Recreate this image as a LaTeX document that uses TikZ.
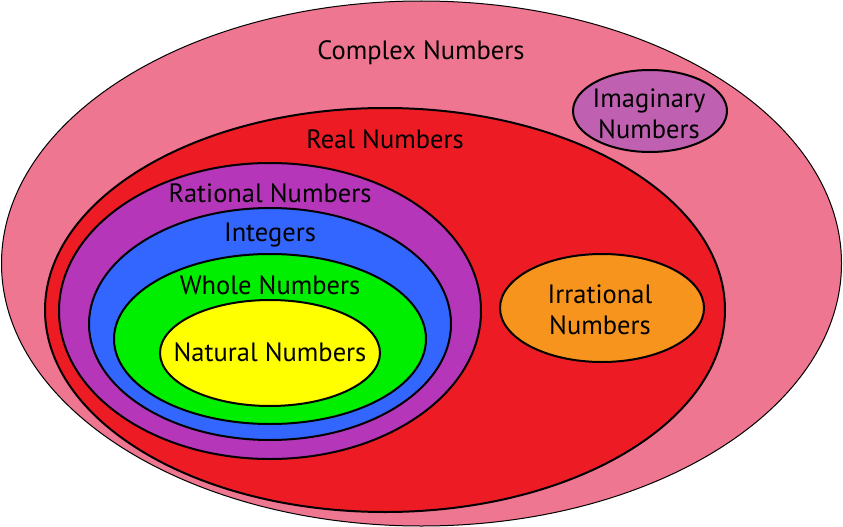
\documentclass[tikz,border=0pt]{standalone}
\usepackage{fontspec}
\setmainfont{PT Sans}
\usepackage{tikz}

\definecolor{complexpink}{HTML}{EF7690}
\definecolor{realred}{HTML}{ED1C24}
\definecolor{rationalpurple}{HTML}{B536B8}
\definecolor{integerblue}{HTML}{3366FF}
\definecolor{wholegreen}{HTML}{00EE00}
\definecolor{naturalyellow}{HTML}{FFFF00}
\definecolor{imagpurple}{HTML}{C060B0}
\definecolor{irratorange}{HTML}{F7941D}

\tikzset{
    numset/.style={draw=black, line width=2pt},
    setlabel/.style={font=\fontsize{26.5}{31}\selectfont, align=center, inner sep=0pt}
}

\begin{document}
\begin{tikzpicture}[x=1pt, y=-1pt]
                    \useasboundingbox (0, 0) rectangle (843, 527);
                    \begin{scope}
                        \filldraw[complexpink, draw=black, line width=1pt] (421.5, 263.5) ellipse (420 and 262.5);
                        \node[setlabel] (complex) at (421, 53) {Complex Numbers};
                    \end{scope}
                    \begin{scope}
                        \filldraw[imagpurple, numset] (650, 111) ellipse (77 and 41);
                        \node[setlabel] (imaginary) at (649, 114) {Imaginary\\Numbers};
                    \end{scope}
                    \begin{scope}
                        \filldraw[realred, numset] (385, 310) ellipse (340 and 202);
                        \node[setlabel] (real) at (385, 139) {Real Numbers};
                        \filldraw[irratorange, numset] (602, 308) ellipse (102 and 54);
                        \node[setlabel] (irrational) at (600, 310) {Irrational\\Numbers};
                    \end{scope}
                    \begin{scope}
                        \filldraw[rationalpurple, numset] (270, 311) ellipse (211 and 148);
                        \node[setlabel] (rational) at (270, 193) {Rational Numbers};
                        \filldraw[integerblue, numset] (270, 324) ellipse (181 and 116);
                        \node[setlabel] (integers) at (270, 235) {Integers};
                        \filldraw[wholegreen, numset] (270, 339) ellipse (156 and 85);
                        \node[setlabel] (whole) at (270, 285) {Whole Numbers};
                        \filldraw[naturalyellow, numset] (270, 353) ellipse (110 and 53);
                        \node[setlabel] (natural) at (270, 352) {Natural Numbers};
                    \end{scope}
                \end{tikzpicture}
\end{document}
